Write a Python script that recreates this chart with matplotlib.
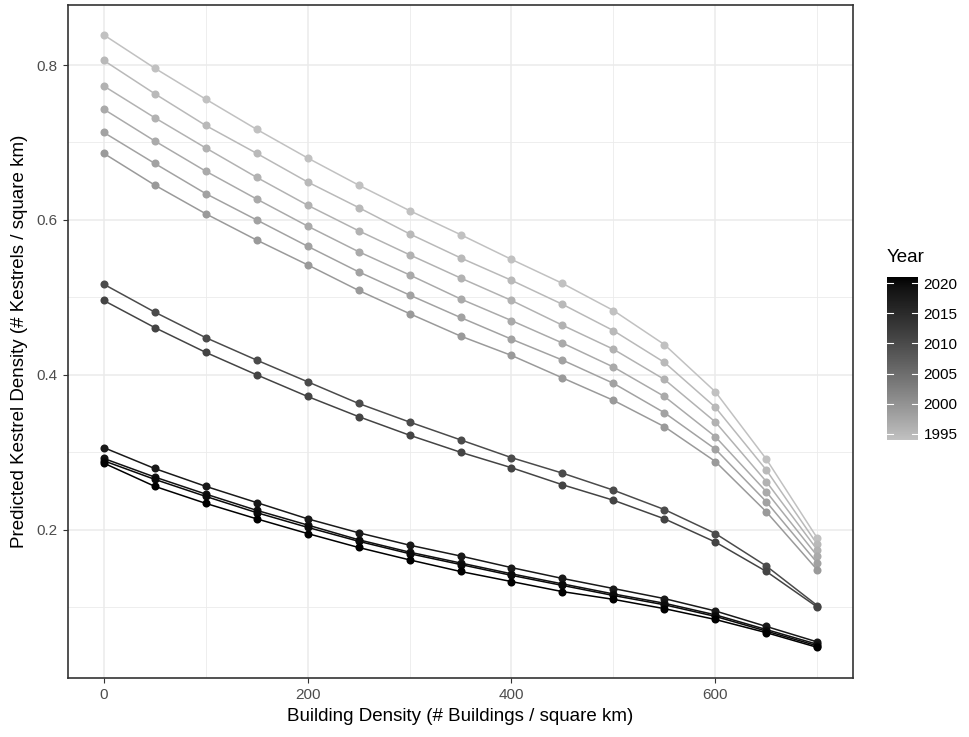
import numpy as np
import matplotlib.pyplot as plt
from matplotlib.colors import LinearSegmentedColormap, Normalize
from matplotlib.cm import ScalarMappable

plt.rcParams['font.family'] = ['Liberation Sans', 'DejaVu Sans']

buildings = [0, 50, 100, 150, 200, 250, 300, 350, 400, 450, 500, 550, 600, 650, 700]

years = [1994, 1995, 1996, 1997, 1998, 1999, 2010, 2011, 2018, 2019, 2020, 2021]

density = [
    [0.839, 0.796, 0.756, 0.717, 0.680, 0.645, 0.612, 0.581, 0.549, 0.518, 0.483, 0.439, 0.378, 0.291, 0.189],
    [0.806, 0.763, 0.722, 0.686, 0.649, 0.616, 0.582, 0.551, 0.522, 0.491, 0.457, 0.416, 0.358, 0.277, 0.181],
    [0.773, 0.732, 0.693, 0.655, 0.619, 0.586, 0.555, 0.525, 0.496, 0.464, 0.433, 0.394, 0.339, 0.262, 0.174],
    [0.743, 0.702, 0.663, 0.627, 0.592, 0.559, 0.529, 0.498, 0.470, 0.441, 0.410, 0.372, 0.320, 0.249, 0.166],
    [0.713, 0.673, 0.634, 0.600, 0.566, 0.533, 0.503, 0.474, 0.446, 0.419, 0.389, 0.351, 0.304, 0.236, 0.157],
    [0.686, 0.645, 0.608, 0.574, 0.542, 0.509, 0.479, 0.450, 0.425, 0.396, 0.367, 0.333, 0.288, 0.223, 0.148],
    [0.517, 0.481, 0.448, 0.419, 0.391, 0.363, 0.339, 0.316, 0.293, 0.273, 0.251, 0.226, 0.195, 0.153, 0.102],
    [0.496, 0.461, 0.429, 0.400, 0.372, 0.346, 0.322, 0.300, 0.280, 0.258, 0.238, 0.214, 0.184, 0.146, 0.100],
    [0.306, 0.279, 0.256, 0.235, 0.214, 0.196, 0.180, 0.166, 0.151, 0.137, 0.124, 0.111, 0.095, 0.075, 0.055],
    [0.292, 0.268, 0.246, 0.225, 0.206, 0.187, 0.171, 0.157, 0.143, 0.130, 0.117, 0.105, 0.090, 0.071, 0.052],
    [0.289, 0.265, 0.243, 0.222, 0.203, 0.185, 0.169, 0.155, 0.141, 0.128, 0.115, 0.103, 0.088, 0.069, 0.050],
    [0.286, 0.256, 0.234, 0.214, 0.195, 0.177, 0.161, 0.146, 0.133, 0.120, 0.110, 0.098, 0.084, 0.067, 0.048],
]


# ggplot interpolates the gradient in Lab, so go linear in L* for the greys
def lstar_to_grey(L):
    y = ((L + 16) / 116) ** 3 if L > 8 else L / 903.3
    c = 12.92 * y if y <= 0.0031308 else 1.055 * y ** (1 / 2.4) - 0.055
    return (c, c, c)


L_low = 78.0
cmap = LinearSegmentedColormap.from_list(
    'greys', [lstar_to_grey(L_low * (1 - t)) for t in np.linspace(0, 1, 64)])
norm = Normalize(vmin=min(years), vmax=max(years))

fig = plt.figure(figsize=(9.7, 7.37), dpi=100)
ax = fig.add_axes([0.0701, 0.0801, 0.8093, 0.9131])

for yr, vals in zip(years, density):
    ax.plot(buildings, vals, color=cmap(norm(yr)), lw=1.1, zorder=2)
for yr, vals in zip(years, density):
    ax.plot(buildings, vals, 'o', color=cmap(norm(yr)), ms=5.8, mew=0, zorder=3)

ax.set_xlim(-35, 735)
ax.set_ylim(0.0085, 0.8775)
ax.set_xticks([0, 200, 400, 600])
ax.set_xticks([100, 300, 500, 700], minor=True)
ax.set_yticks([0.2, 0.4, 0.6, 0.8])
ax.set_yticklabels(['0.2', '0.4', '0.6', '0.8'])
ax.set_yticks([0.1, 0.3, 0.5, 0.7], minor=True)
ax.grid(True, which='major', color='#EBEBEB', lw=1.1, zorder=0)
ax.grid(True, which='minor', color='#EBEBEB', lw=0.6, zorder=0)
ax.tick_params(which='major', length=3.5, width=0.8, color='#333333',
               labelcolor='#4D4D4D', labelsize=11, pad=4)
ax.tick_params(which='minor', length=0)
for s in ax.spines.values():
    s.set_color('#333333')
    s.set_linewidth(1.2)
ax.set_xlabel('Building Density (# Buildings / square km)', fontsize=13.5, labelpad=4)
ax.set_ylabel('Predicted Kestrel Density (# Kestrels / square km)', fontsize=13.5, labelpad=6)

# colour bar legend
cax = fig.add_axes([887 / 970, 1 - 440 / 737, 31 / 970, 163 / 737])
cb = fig.colorbar(ScalarMappable(norm=norm, cmap=cmap), cax=cax)
cb.outline.set_visible(False)
cb.set_ticks([1995, 2000, 2005, 2010, 2015, 2020])
cax.tick_params(length=0, labelsize=11, labelcolor='black', pad=4)
for t in [1995, 2000, 2005, 2010, 2015, 2020]:
    cax.plot([0, 0.2], [t, t], color='white', lw=0.8, transform=cax.get_yaxis_transform())
    cax.plot([0.8, 1], [t, t], color='white', lw=0.8, transform=cax.get_yaxis_transform())
fig.text(887 / 970, 1 - 258 / 737, 'Year', fontsize=13.5, va='center', ha='left')

fig.savefig('out.png', dpi=100)
